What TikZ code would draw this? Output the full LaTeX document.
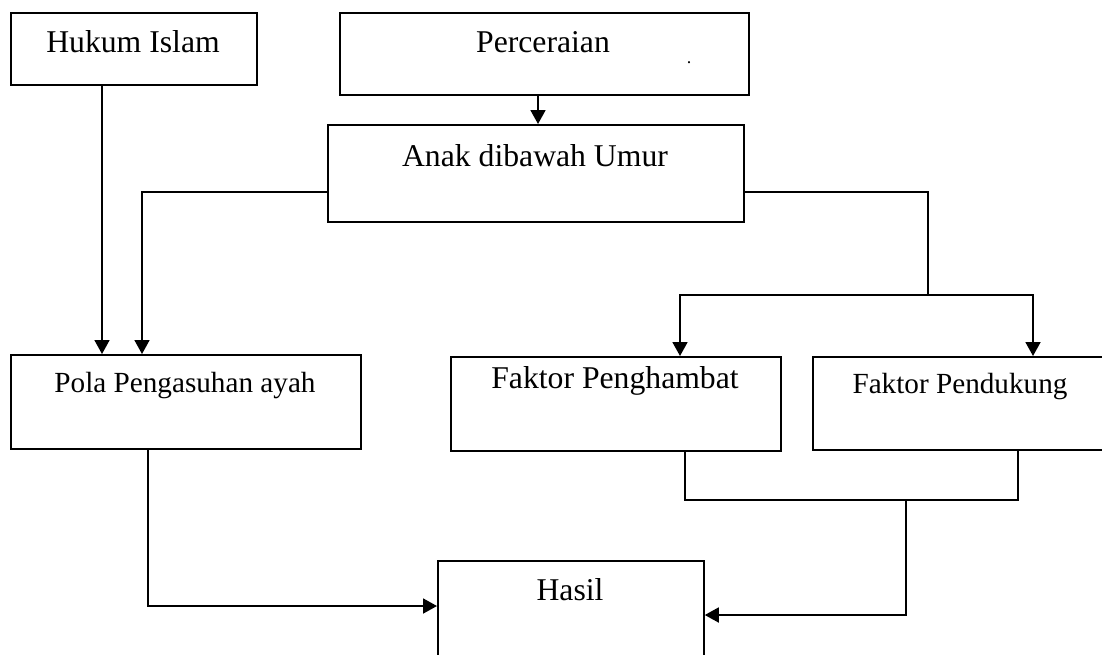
\documentclass[tikz,border=0pt]{standalone}
\usepackage{fontspec}
\setmainfont{Liberation Serif}
\usetikzlibrary{arrows.meta}
\begin{document}
\begin{tikzpicture}[x=1pt,y=-1pt,
 box/.style={draw,line width=1.8pt,rectangle,anchor=north west,inner sep=0pt},
 big/.style={font=\fontsize{31.7}{36}\selectfont,anchor=base,inner sep=0pt},
 small/.style={font=\fontsize{29.2}{34}\selectfont,anchor=base,inner sep=0pt},
 conn/.style={line width=1.8pt},
 arr/.style={conn,-{Triangle[length=14pt,width=15pt]}}]
\useasboundingbox (0,0) rectangle (1102,654);
\clip (0,0) rectangle (1102,654);
% boxes
\node[box,minimum width=246pt,minimum height=72pt] (hukum) at (10,12) {};
\node[box,minimum width=409pt,minimum height=82pt] (perc) at (339,12) {};
\node[box,minimum width=416pt,minimum height=97pt] (anak) at (327,124) {};
\node[box,minimum width=350pt,minimum height=94pt] (pola) at (10,354) {};
\node[box,minimum width=330pt,minimum height=94pt] (peng) at (450,356) {};
\node[box,minimum width=300pt,minimum height=93pt] (pend) at (812,356) {};
\node[box,minimum width=266pt,minimum height=110pt] (hasil) at (437,560) {};
% texts
\node[big] (thukum) at (133,52) {Hukum Islam};
\node[big] (tperc) at (543,52) {Perceraian};
\node[font=\fontsize{18}{20}\selectfont,anchor=base,inner sep=0pt] (tdot) at (689,63) {.};
\node[big] (tanak) at (535,166) {Anak dibawah Umur};
\node[small] (tpola) at (185,392) {Pola Pengasuhan ayah};
\node[big] (tpeng) at (615,388) {Faktor Penghambat};
\node[small] (tpend) at (960,393) {Faktor Pendukung};
\node[big] (thasil) at (570,600) {Hasil};
% helper coordinates
\coordinate (xh) at (102,0);
\coordinate (xa) at (142,192);
\coordinate (xp) at (538,0);
\coordinate (ar) at (928,192);
\coordinate (jn) at (928,295);
\coordinate (xl) at (680,0);
\coordinate (xr) at (1033,0);
\coordinate (pb) at (148,606);
\coordinate (hb) at (685,500);
\coordinate (db) at (1018,500);
\coordinate (mv) at (906,615);
% connectors
\draw[arr] (hukum.south -| xh) -- (pola.north -| xh);
\draw[arr] (perc.south -| xp) -- (anak.north -| xp);
\draw[arr] (anak.west |- xa) -- (xa) -- (pola.north -| xa);
\draw[conn] (anak.east |- ar) -- (ar) -- (jn);
\draw[arr] (jn) -- (jn -| xl) -- (peng.north -| xl);
\draw[arr] (jn) -- (jn -| xr) -- (pend.north -| xr);
\draw[arr] (pola.south -| pb) -- (pb) -- (hasil.west |- pb);
\draw[conn] (peng.south -| hb) -- (hb) -- (db) -- (pend.south -| db);
\draw[arr] (hb -| mv) -- (mv) -- (hasil.east |- mv);
\end{tikzpicture}
\end{document}
